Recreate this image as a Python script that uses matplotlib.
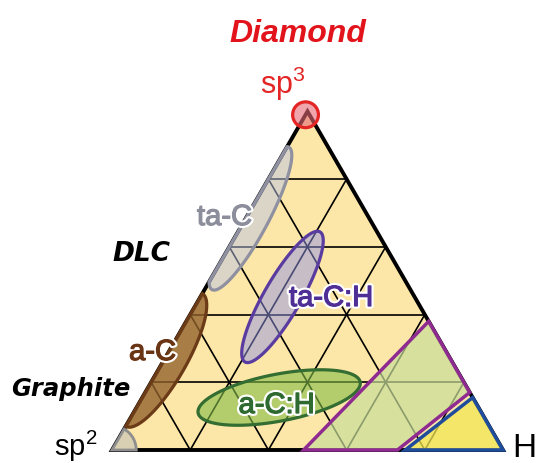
import numpy as np
import matplotlib
matplotlib.use("Agg")
import matplotlib.pyplot as plt
from matplotlib.patches import Polygon, Circle, Wedge
import matplotlib.patheffects as pe

plt.rcParams["mathtext.fontset"] = "custom"
plt.rcParams["mathtext.rm"] = "Liberation Sans"

# ternary compositions: (sp3 fraction, H fraction); sp2 = 1 - sp3 - H
n_div = 5

region_names = ["ta-C", "ta-C:H", "a-C", "a-C:H"]
region_sp3 = [0.684, 0.452, 0.266, 0.155]
region_h = [0.012, 0.210, 0.0, 0.350]
region_half_len = [0.207, 0.192, 0.196, 0.211]
region_half_wid = [0.045, 0.047, 0.056, 0.060]
region_angle = [61.7, 60.0, 60.0, 10.8]

# "no film" zones at the H-rich corner
poly_sp3 = [0.0, 0.38, 0.17, 0.0]
poly_h = [0.49, 0.62, 0.83, 0.73]
gas_sp3 = [0.0, 0.155, 0.0]
gas_h = [0.75, 0.845, 1.0]

S3 = np.sqrt(3) / 2


def tern(sp3, h):
    sp3 = np.asarray(sp3, dtype=float)
    h = np.asarray(h, dtype=float)
    return h + sp3 / 2, sp3 * S3


def ellipse_region(cx, cy, a, b, ang):
    t = np.linspace(0, 2 * np.pi, 300)
    c, s = np.cos(np.radians(ang)), np.sin(np.radians(ang))
    x = cx + a * np.cos(t) * c - b * np.sin(t) * s
    y = cy + a * np.cos(t) * s + b * np.sin(t) * c
    # flatten the part sticking out past the sp2-sp3 edge
    d = S3 * x - 0.5 * y
    d = np.minimum(d, 0)
    x = x - d * S3
    y = y + d * 0.5
    return np.column_stack([x, y])


fig = plt.figure(figsize=(5.39, 4.63), dpi=100)
ax = fig.add_axes([0, 0, 1, 1])
L = 391.0
ax.set_xlim(-112 / L, 427 / L)
ax.set_ylim(-13 / L, 450 / L)
ax.axis("off")

corners = np.array([tern(0, 0), tern(0, 1), tern(1, 0)])
ax.add_patch(Polygon(corners, closed=True, facecolor="#fde7a8", edgecolor="none", zorder=1))

# grid
for k in range(1, n_div):
    f = k / n_div
    for p, q in [((f, 0), (f, 1 - f)), ((0, f), (1 - f, f)), ((0, 1 - f), (1 - f, 0))]:
        x0, y0 = tern(*p)
        x1, y1 = tern(*q)
        ax.plot([x0, x1], [y0, y1], color="black", lw=1.2, zorder=2)

ax.add_patch(Polygon(corners, closed=True, facecolor="none", edgecolor="black",
                     lw=2.8, joinstyle="miter", zorder=3))

# ellipse regions
faces = [(0.73, 0.77, 0.91, 0.5), (0.57, 0.58, 0.9, 0.5),
         (0.57, 0.38, 0.17, 0.78), (0.51, 0.74, 0.28, 0.6)]
edges = ["#8f90a0", "#5a3ca0", "#6b3a17", "#336d31"]
text_cols = ["#8d8e9c", "#4f2f96", "#6a3515", "#2f6a30"]
for i in range(len(region_names)):
    cx, cy = tern(region_sp3[i], region_h[i])
    pts = ellipse_region(cx, cy, region_half_len[i], region_half_wid[i], region_angle[i])
    ax.add_patch(Polygon(pts, closed=True, facecolor=faces[i], edgecolor=edges[i],
                         lw=2.3, zorder=4))

px, py = tern(poly_sp3, poly_h)
ax.add_patch(Polygon(np.column_stack([px, py]), closed=True,
                     facecolor=(0.78, 0.87, 0.6, 0.7), edgecolor="#8e2a90",
                     lw=2.5, joinstyle="miter", zorder=4))
gx, gy = tern(gas_sp3, gas_h)
ax.add_patch(Polygon(np.column_stack([gx, gy]), closed=True,
                     facecolor=(0.95, 0.9, 0.33, 0.75), edgecolor="#1f4d9c",
                     lw=2.5, joinstyle="miter", zorder=4))

# corner markers
ax.add_patch(Wedge(tern(0, 0), 0.062, 0, 60, facecolor="#d9cfb2", edgecolor="#8e8e8e",
                   lw=2.0, zorder=5))
ax.add_patch(Circle(tern(0.99, 0), 0.033, facecolor=(0.9, 0.41, 0.46, 0.6),
                    edgecolor="#e32525", lw=2.3, zorder=5))

# labels
ax.text(0.4757, 1.0443, "Diamond", color="#e3131b", fontsize=23, fontweight="bold",
        fontstyle="italic", family="Liberation Sans", ha="center", va="baseline")
ax.text(0.4361, 0.9097, r"sp$^3$", color="#e32525", fontsize=22,
        family="Liberation Sans", ha="center", va="baseline")
ax.text(-0.0934, -0.0153, r"sp$^2$", color="black", fontsize=21,
        family="Liberation Sans", ha="center", va="baseline")
ax.text(1.0538, -0.0180, "H", color="black", fontsize=24,
        family="Liberation Sans", ha="center", va="baseline")
ax.text(0.0760, 0.4841, "DLC", color="black", fontsize=19, fontweight="bold",
        fontstyle="italic", family="DejaVu Sans", ha="center", va="baseline")
ax.text(-0.1061, 0.1381, "Graphite", color="black", fontsize=17.5, fontweight="bold",
        fontstyle="italic", family="DejaVu Sans", ha="center", va="baseline")

label_xy = [(0.2877, 0.5754), (0.5601, 0.3683), (0.1036, 0.2302), (0.4207, 0.0946)]
for i, name in enumerate(region_names):
    ax.text(label_xy[i][0], label_xy[i][1], name, color=text_cols[i], fontsize=21,
            family="Liberation Sans", ha="center", va="baseline", zorder=6,
            path_effects=[pe.withStroke(linewidth=4, foreground="white"),
                          pe.Stroke(linewidth=0.9, foreground=text_cols[i]),
                          pe.Normal()])

fig.savefig("out.png", dpi=100)
